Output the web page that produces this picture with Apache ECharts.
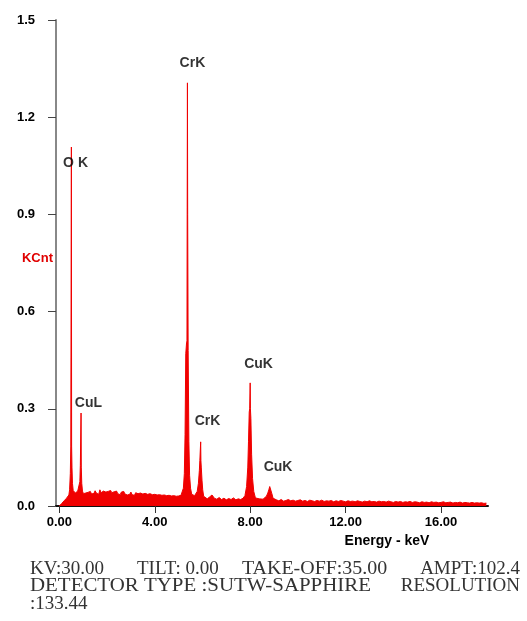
<!DOCTYPE html>
<html>
<head>
<meta charset="utf-8">
<script src="https://cdn.jsdelivr.net/npm/echarts@6/dist/echarts.min.js"></script>
<style>
  html, body { margin: 0; padding: 0; background: #fff; }
  #chart { width: 527px; height: 621px; }
</style>
</head>
<body>
<div id="chart"></div>
<script>
// spectrum, split by region (keV / KCnt)
const energyLow = [0.00, 0.05, 0.10, 0.15, 0.20, 0.25, 0.30, 0.35, 0.40,
    0.43, 0.46, 0.48, 0.495, 0.505, 0.515,
    0.53, 0.55, 0.58, 0.62, 0.67, 0.72, 0.77, 0.82,
    0.86, 0.88, 0.90, 0.91, 0.92, 0.94, 0.97, 1.01]
const kcntLow = [0.000, 0.004, 0.008, 0.012, 0.016, 0.020, 0.024, 0.028, 0.034,
    0.050, 0.100, 0.185, 0.190, 1.108, 0.185,
    0.120, 0.070, 0.048, 0.042, 0.040, 0.044, 0.046, 0.050,
    0.075, 0.125, 0.130, 0.287, 0.120, 0.070, 0.046, 0.038]

const energyMid = [
    1.05, 1.10, 1.15, 1.20, 1.25, 1.30, 1.35, 1.40, 1.45, 1.50,
    1.55, 1.60, 1.65, 1.70, 1.75, 1.80, 1.85, 1.90, 1.95, 2.00,
    2.05, 2.10, 2.15, 2.20, 2.25, 2.30, 2.35, 2.40, 2.45, 2.50,
    2.55, 2.60, 2.65, 2.70, 2.75, 2.80, 2.85, 2.90, 2.95, 3.00,
    3.05, 3.10, 3.15, 3.20, 3.25, 3.30, 3.35, 3.40, 3.45, 3.50,
    3.55, 3.60, 3.65, 3.70, 3.75, 3.80, 3.85, 3.90, 3.95, 4.00,
    4.05, 4.10, 4.15, 4.20, 4.25, 4.30, 4.35, 4.40, 4.45, 4.50,
    4.55, 4.60, 4.65, 4.70, 4.75, 4.80, 4.85, 4.90, 4.95, 5.00,
    5.05, 5.10]
const kcntMid = [
    0.036, 0.040, 0.034, 0.042, 0.038, 0.045, 0.037, 0.043, 0.039, 0.047,
    0.040, 0.044, 0.036, 0.050, 0.041, 0.038, 0.046, 0.040, 0.043, 0.037,
    0.045, 0.039, 0.048, 0.041, 0.036, 0.044, 0.040, 0.046, 0.038, 0.042,
    0.035, 0.043, 0.039, 0.045, 0.037, 0.041, 0.034, 0.040, 0.036, 0.043,
    0.035, 0.039, 0.033, 0.041, 0.036, 0.038, 0.032, 0.040, 0.035, 0.037,
    0.031, 0.039, 0.034, 0.036, 0.030, 0.038, 0.033, 0.035, 0.029, 0.036,
    0.032, 0.034, 0.028, 0.035, 0.031, 0.033, 0.027, 0.034, 0.030, 0.032,
    0.027, 0.033, 0.029, 0.031, 0.026, 0.032, 0.028, 0.030, 0.026, 0.031,
    0.028, 0.033]

const energyCr = [5.15, 5.20, 5.24, 5.27, 5.30, 5.33, 5.35, 5.36, 5.37, 5.38,
    5.40, 5.43, 5.46, 5.50, 5.55, 5.61, 5.67, 5.73, 5.78, 5.83, 5.87,
    5.89, 5.91, 5.925, 5.935, 5.95, 5.98, 6.01, 6.05]
const kcntCr = [0.038, 0.055, 0.100, 0.220, 0.470, 0.500, 0.510, 0.920, 1.306, 0.900,
    0.480, 0.200, 0.095, 0.055, 0.036, 0.030, 0.032, 0.036, 0.045, 0.070, 0.110,
    0.140, 0.145, 0.198, 0.140, 0.120, 0.080, 0.050, 0.030]

const energyMid2 = [6.1, 6.2, 6.3, 6.4, 6.5, 6.6, 6.7, 6.8, 6.9, 7.0, 7.1, 7.2, 7.3, 7.4, 7.5, 7.6, 7.7]
const kcntMid2 = [0.026, 0.022, 0.028, 0.034, 0.024, 0.021, 0.026, 0.020, 0.024, 0.019, 0.023, 0.020, 0.025, 0.019, 0.022, 0.020, 0.024]

const energyCu = [7.78, 7.85, 7.90, 7.93, 7.96, 7.98, 8.00, 8.01, 8.03, 8.06,
    8.10, 8.15, 8.22, 8.30, 8.38, 8.46, 8.54, 8.62, 8.68, 8.74, 8.79,
    8.82, 8.84, 8.87, 8.91, 8.96, 9.02]
const kcntCu = [0.032, 0.060, 0.120, 0.200, 0.290, 0.300, 0.380, 0.300, 0.270, 0.160,
    0.085, 0.045, 0.025, 0.020, 0.022, 0.018, 0.021, 0.024, 0.030, 0.040, 0.052,
    0.060, 0.065, 0.055, 0.038, 0.024, 0.018]

const energyHigh = [
    9.1, 9.2, 9.3, 9.4, 9.5, 9.6, 9.7, 9.8, 9.9, 10.0,
    10.1, 10.2, 10.3, 10.4, 10.5, 10.6, 10.7, 10.8, 10.9, 11.0,
    11.1, 11.2, 11.3, 11.4, 11.5, 11.6, 11.7, 11.8, 11.9, 12.0,
    12.1, 12.2, 12.3, 12.4, 12.5, 12.6, 12.7, 12.8, 12.9, 13.0,
    13.1, 13.2, 13.3, 13.4, 13.5, 13.6, 13.7, 13.8, 13.9, 14.0,
    14.1, 14.2, 14.3, 14.4, 14.5, 14.6, 14.7, 14.8, 14.9, 15.0,
    15.1, 15.2, 15.3, 15.4, 15.5, 15.6, 15.7, 15.8, 15.9, 16.0,
    16.1, 16.2, 16.3, 16.4, 16.5, 16.6, 16.7, 16.8, 16.9, 17.0,
    17.1, 17.2, 17.3, 17.4, 17.5, 17.6, 17.7, 17.8, 17.9]
const kcntHigh = [
    0.019, 0.016, 0.020, 0.015, 0.017, 0.020, 0.016, 0.018, 0.015, 0.017,
    0.019, 0.015, 0.017, 0.014, 0.018, 0.016, 0.014, 0.017, 0.015, 0.018,
    0.014, 0.016, 0.015, 0.017, 0.013, 0.016, 0.014, 0.017, 0.015, 0.013,
    0.016, 0.014, 0.015, 0.013, 0.016, 0.014, 0.012, 0.015, 0.013, 0.016,
    0.013, 0.014, 0.012, 0.015, 0.013, 0.014, 0.012, 0.015, 0.013, 0.011,
    0.014, 0.012, 0.014, 0.011, 0.013, 0.012, 0.014, 0.011, 0.013, 0.012,
    0.010, 0.013, 0.011, 0.012, 0.010, 0.013, 0.011, 0.012, 0.010, 0.011,
    0.013, 0.010, 0.011, 0.012, 0.009, 0.011, 0.010, 0.012, 0.009, 0.011,
    0.010, 0.009, 0.011, 0.009, 0.010, 0.009, 0.010, 0.008, 0.009]

// peak labels
const peakNames = ["O K", "CrK", "CuL", "CrK", "CuK", "CuK"]
const peakKeV = [0.68, 5.58, 1.22, 6.21, 8.35, 9.17]
const peakKcnt = [1.059, 1.366, 0.316, 0.261, 0.437, 0.119]

const xTicks = [0, 4, 8, 12, 16]

const energy = [].concat(energyLow, energyMid, energyCr, energyMid2, energyCu, energyHigh)
const kcnt = [].concat(kcntLow, kcntMid, kcntCr, kcntMid2, kcntCu, kcntHigh)
const spectrum = energy.map((e, i) => [e, kcnt[i]])

const chart = echarts.init(document.getElementById("chart"), null, { renderer: "canvas" })

const sans = "Liberation Sans, Arial, sans-serif"
const serif = "Liberation Serif, Times New Roman, serif"
const footStyle = { font: "19px " + serif, fill: "#333", textVerticalAlign: "middle" }
const footRight = Object.assign({}, footStyle, { textAlign: "right" })

const option = {
    animation: false,
    backgroundColor: "#fff",
    grid: { left: 56, right: 39, top: 20, bottom: 115 },
    xAxis: {
        type: "value",
        min: -0.14,
        max: 17.97,
        axisLine: { onZero: false, lineStyle: { color: "#111", width: 2 } },
        axisTick: { show: true, customValues: xTicks, length: 7, lineStyle: { color: "#333", width: 1 } },
        axisLabel: {
            customValues: xTicks,
            margin: 10,
            fontFamily: sans,
            fontWeight: "bold",
            fontSize: 13,
            color: "#000",
            formatter: v => v.toFixed(2)
        },
        splitLine: { show: false }
    },
    yAxis: {
        type: "value",
        min: 0,
        max: 1.5,
        interval: 0.3,
        axisLine: { show: true, onZero: false, lineStyle: { color: "#888", width: 2 } },
        axisTick: { show: true, length: 8, lineStyle: { color: "#444", width: 1 } },
        axisLabel: {
            margin: 21,
            fontFamily: sans,
            fontWeight: "bold",
            fontSize: 13,
            color: "#000",
            formatter: v => v.toFixed(1)
        },
        splitLine: { show: false }
    },
    series: [
        {
            type: "line",
            data: spectrum,
            showSymbol: false,
            symbol: "none",
            sampling: null,
            lineStyle: { color: "#f00000", width: 1 },
            areaStyle: { color: "#f00000", opacity: 1 },
            z: 2
        },
        {
            type: "scatter",
            symbolSize: 0,
            data: peakNames.map((n, i) => ({ name: n, value: [peakKeV[i], peakKcnt[i]] })),
            label: {
                show: true,
                position: "inside",
                formatter: p => p.name,
                fontFamily: sans,
                fontWeight: "bold",
                fontSize: 14,
                color: "#000"
            },
            z: 5
        }
    ],
    graphic: [
        { type: "text", x: 53, y: 258, style: { text: "KCnt", font: "bold 13px " + sans, fill: "#e00000", textAlign: "right", textVerticalAlign: "middle" } },
        { type: "text", x: 387, y: 541, style: { text: "Energy - keV", font: "bold 14px " + sans, fill: "#000", textAlign: "center", textVerticalAlign: "middle" } },
        { type: "text", x: 30, y: 569, style: Object.assign({ text: "KV:30.00" }, footStyle) },
        { type: "text", x: 137, y: 569, style: Object.assign({ text: "TILT: 0.00" }, footStyle) },
        { type: "text", x: 242, y: 569, scaleX: 1.05, style: Object.assign({ text: "TAKE-OFF:35.00" }, footStyle) },
        { type: "text", x: 520, y: 569, style: Object.assign({ text: "AMPT:102.4" }, footRight) },
        { type: "text", x: 30, y: 586, scaleX: 1.1, style: Object.assign({ text: "DETECTOR TYPE :SUTW-SAPPHIRE" }, footStyle) },
        { type: "text", x: 520, y: 586, style: Object.assign({ text: "RESOLUTION" }, footRight) },
        { type: "text", x: 30, y: 604, style: Object.assign({ text: ":133.44" }, footStyle) }
    ]
}

chart.setOption(option)
</script>
</body>
</html>
